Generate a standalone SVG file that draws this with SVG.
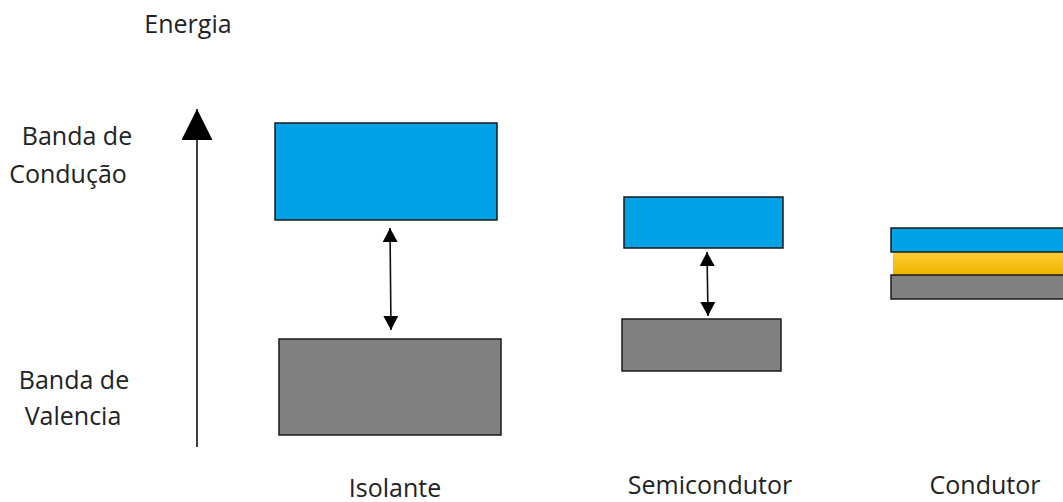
<svg xmlns="http://www.w3.org/2000/svg" width="1063" height="502" viewBox="0 0 1063 502">
  <style>
    text { font-family: "Open Sans", "Liberation Sans", sans-serif; font-size: 25px; fill: #222; text-anchor: middle; }
    .cond { fill: #00A2E6; stroke: #1a1a1a; stroke-width: 1.5; }
    .val { fill: #808080; stroke: #1a1a1a; stroke-width: 1.5; }
    .gap { fill: url(#gold); }
    .line { stroke: #111; stroke-width: 1.6; fill: none; }
  </style>
  <defs>
    <linearGradient id="gold" x1="0" y1="0" x2="0" y2="1">
      <stop offset="0" stop-color="#FFCB33"/>
      <stop offset="1" stop-color="#F0B400"/>
    </linearGradient>
    <marker id="head" viewBox="0 0 10 10" refX="10" refY="5" markerWidth="14" markerHeight="15" markerUnits="userSpaceOnUse" orient="auto-start-reverse" preserveAspectRatio="none">
      <path d="M0,0 L10,5 L0,10 Z" fill="#000"/>
    </marker>
    <marker id="bighead" viewBox="0 0 10 10" refX="10" refY="5" markerWidth="31" markerHeight="31" markerUnits="userSpaceOnUse" orient="auto">
      <path d="M0,0 L10,5 L0,10 Z" fill="#000"/>
    </marker>
  </defs>

  <!-- axis and labels -->
  <g id="axis">
    <text x="188" y="33">Energia</text>
    <text x="77" y="145">Banda de</text>
    <text x="68" y="183">Condução</text>
    <text x="74" y="389">Banda de</text>
    <text x="73" y="425">Valencia</text>
  </g>

  <!-- insulator -->
  <g id="isolante">
    <rect class="cond" x="275" y="123" width="222" height="97"/>
    <rect class="val" x="279" y="339" width="222" height="96"/>
    <text x="395" y="497">Isolante</text>
  </g>

  <!-- semiconductor -->
  <g id="semicondutor">
    <rect class="cond" x="624" y="197" width="159" height="51"/>
    <rect class="val" x="622" y="319" width="159" height="52"/>
    <text x="710" y="494">Semicondutor</text>
  </g>

  <!-- conductor: overlapping bands -->
  <g id="condutor">
    <rect class="gap" x="893" y="252" width="172" height="23"/>
    <rect class="cond" x="891" y="228" width="174" height="24"/>
    <rect class="val" x="891" y="275" width="174" height="24"/>
    <text x="985" y="494">Condutor</text>
  </g>

  <!-- connectors -->
  <g id="connectors">
    <line class="line" x1="197" y1="447" x2="197" y2="109" marker-end="url(#bighead)" stroke-width="2"/>
    <line class="line" x1="390" y1="228" x2="391" y2="330" marker-start="url(#head)" marker-end="url(#head)"/>
    <line class="line" x1="707" y1="252" x2="708" y2="316" marker-start="url(#head)" marker-end="url(#head)"/>
  </g>
</svg>
